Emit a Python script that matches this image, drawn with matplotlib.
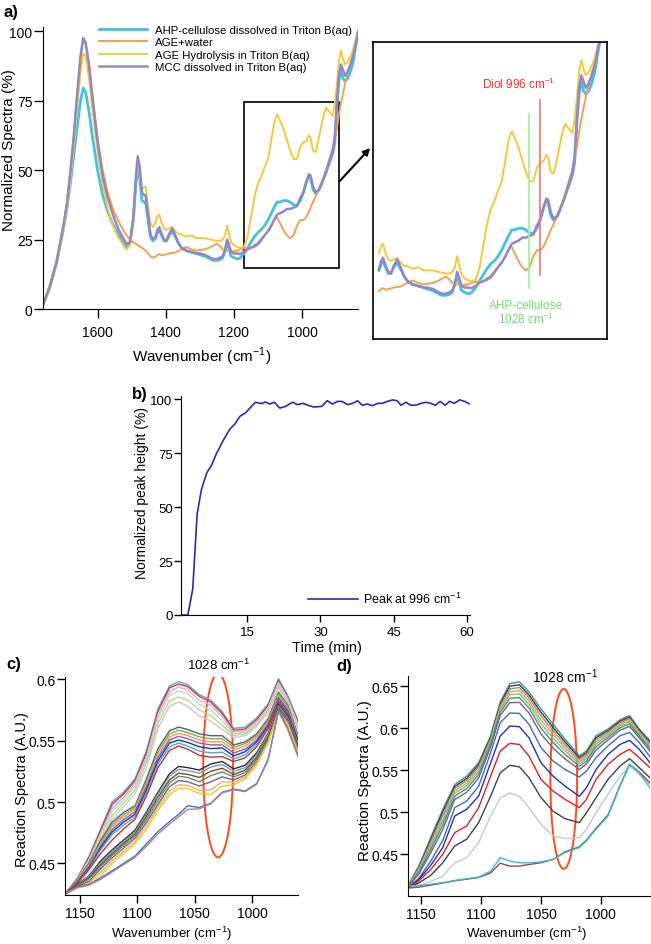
import matplotlib
matplotlib.use('agg')
import matplotlib.pyplot as plt
from matplotlib.patches import Rectangle, Ellipse, FancyArrowPatch
import numpy as np

# ---------------- data ----------------
# panel a: normalized ATR spectra
wn_a = [1760, 1740, 1720, 1700, 1690, 1680, 1670, 1660, 1650, 1642, 1635, 1625, 1615, 1600, 1585,
        1570, 1555, 1540, 1525, 1515, 1505, 1495, 1488, 1482, 1476, 1470, 1464, 1459, 1452, 1445,
        1438, 1430, 1424, 1419, 1412, 1405, 1398, 1390, 1381, 1372, 1362, 1353, 1340, 1325, 1310,
        1300, 1285, 1270, 1261, 1250, 1240, 1233, 1226, 1220, 1214, 1208, 1200, 1190, 1182, 1170,
        1160, 1150, 1140, 1130, 1120, 1110, 1100, 1090, 1080, 1073, 1065, 1055, 1045, 1035, 1025,
        1015, 1005, 996, 988, 980, 975, 968, 960, 950, 940, 930, 920, 910, 904, 898,
        892, 886, 880, 874, 866, 858, 850, 842, 836]
ahp_cellulose = [1.5, 8, 17, 29, 36, 45, 55, 65, 75, 79.5, 78, 71, 62, 50, 41,
                 35, 30.5, 27, 24, 22.3, 23.5, 32, 44, 50.5, 47, 39, 38.5, 38.5, 32, 26,
                 24.5, 25.5, 27.5, 28.5, 26.5, 24.5, 24.5, 26.5, 28, 26, 23.5, 22, 21, 20.5, 20,
                 19.5, 19, 18, 17.5, 17.5, 17.8, 18.5, 21, 24, 21.5, 19, 18.5, 18, 18.3, 20,
                 22, 24, 26, 27.5, 28.5, 30, 32, 34.5, 37, 38.5, 38.5, 39, 39, 38.5, 37.5,
                 37.3, 39, 42, 45.5, 48, 47, 43, 41.5, 43, 46, 49.3, 52.5, 56, 60, 73,
                 82, 86, 83, 82, 83, 85.5, 89, 95, 99]
age_water = [1.5, 8.5, 17.5, 30, 38, 49, 62, 77, 90, 97, 95.5, 88, 77, 62, 50,
             42, 36, 32, 28.5, 26.5, 25, 24, 23.5, 23, 22.5, 22, 21.5, 21, 20, 19,
             18.5, 18.8, 19.5, 19.8, 19.3, 19.5, 19.7, 20, 20.2, 20.3, 21, 21.5, 22.3, 21.5, 21,
             21.2, 21.5, 22.2, 22.8, 23.5, 22.5, 21.5, 21, 21, 21, 20.8, 20.8, 21, 21.5, 21.8,
             22, 22, 22.3, 23, 24.5, 26.5, 28, 30, 32.5, 33, 31, 28.5, 26.5, 25.5, 26.5,
             30, 32, 32, 33, 35, 36.5, 38.5, 40.5, 43, 46, 50, 54, 58, 61, 65,
             70, 74, 77.5, 81, 85, 88.5, 92, 96.5, 100]
age_hydrolysis = [1, 7, 16, 28, 36, 46, 58, 72, 85, 92, 91, 83, 72, 57, 45,
                  36, 30, 26, 23, 21.3, 23, 32, 46, 53, 49, 43, 44, 44, 37, 31,
                  29.5, 31, 33.5, 34, 31, 29, 28.5, 29, 29.5, 28, 27, 26.8, 26, 26.5, 25.5,
                  25.5, 25.5, 25, 24.8, 24.5, 24.5, 25, 26.5, 30, 27, 24, 23, 22.3, 22, 22.5,
                  26, 33, 40, 45, 47.5, 51, 54, 61, 68, 70, 68, 65, 61, 57, 54,
                  54, 58.5, 60, 60.5, 62.5, 61.5, 57, 56.5, 62, 68, 72.5, 71, 69.5, 74, 81,
                  89, 93, 90, 88, 89, 91, 93.5, 97.5, 100.5]
mcc = [1.5, 8, 17, 30, 38, 49, 62, 77, 91, 97.5, 96, 88, 76, 60, 48,
       40, 34, 29, 25.5, 23.5, 24, 33, 47, 55, 51, 42, 41, 41, 34, 27,
       25, 26, 28.5, 29.5, 27, 25, 24.5, 27, 29, 26.5, 23.5, 22, 21, 20.5, 20,
       20, 19.5, 18.5, 18, 18, 18.5, 19, 21, 25, 23, 20.5, 20, 20, 19.8, 20.5,
       21.5, 22, 22.8, 23.5, 25, 26.5, 28, 30, 32.5, 34, 34.5, 35, 36, 36, 36.5,
       37, 40, 42, 45.5, 48.5, 48, 44, 42, 43, 46, 49, 53, 57, 62, 74,
       84, 88, 86, 84, 85.5, 88, 91, 96, 99.5]
series_a = ['AHP-cellulose dissolved in Triton B(aq)', 'AGE+water',
            'AGE Hydrolysis in Triton B(aq)', 'MCC dissolved in Triton B(aq)']
zoom_box = [1170, 891, 14.8, 74.4]   # wavenumber from/to, % from/to
diol_wn, ahp_wn = 996, 1028

# panel b: peak height vs time
time_min = [1.3, 2.9, 3.9, 4.8, 5.7, 6.8, 7.7, 8.7, 10.1, 11.5, 12.5, 13.6, 14.7, 15.6, 16.7,
            17.9, 18.7, 19.7, 20.6, 21.7, 22.9, 24.3, 25.3, 26.5, 27.7, 28.7, 30.3, 31.4, 32.5,
            33.5, 34.4, 35.6, 36.6, 37.6, 38.6, 39.6, 40.7, 41.7, 42.7, 43.7, 44.8, 45.7, 46.5,
            47.5, 48.5, 49.6, 50.6, 51.6, 52.6, 53.5, 54.5, 55.5, 56.4, 57.4, 58.5, 59.5, 60.4]
peak_996 = [0, 0, 12, 46.8, 58.3, 66, 69.1, 74.5, 80.7, 86.1, 88.4, 92.1, 93.6, 95.8, 98.5,
            97.9, 98.6, 97.7, 98.5, 95.8, 96.6, 98.5, 97.4, 98, 96.9, 96.3, 96.6, 99.2, 97.7,
            98.9, 98.9, 97.4, 98, 99.2, 97.1, 97.7, 96.9, 98, 98, 98.9, 99.6, 99.2, 97.1,
            98.5, 97.1, 97.2, 98, 98.5, 98, 97.1, 98.9, 97.1, 98.9, 98, 99.6, 98.9, 97.8]

# panel c: reaction spectra (selected traces)
wn_c = [1163, 1152, 1142, 1132, 1122, 1112, 1102, 1092, 1082, 1072, 1064,
        1056, 1046, 1036, 1026, 1016, 1006, 996, 986, 977, 969, 960]
spectra_c = [
    [.425, .4385, .456, .478, .500, .508, .519, .542, .576, .5945, .598, .5955, .5875, .583, .5735, .560, .561, .5685, .580, .6005, .587, .5665],
    [.425, .438, .455, .4765, .498, .5065, .5175, .540, .574, .593, .596, .594, .586, .5815, .572, .5585, .5595, .567, .5785, .599, .5855, .565],
    [.425, .4375, .4535, .4745, .495, .504, .5155, .537, .571, .590, .5935, .5915, .583, .579, .5695, .557, .558, .5655, .577, .5975, .5845, .5635],
    [.425, .4375, .4525, .4725, .4925, .502, .513, .535, .568, .587, .5905, .588, .5795, .575, .566, .5555, .5565, .564, .5755, .596, .583, .5625],
    [.425, .437, .451, .470, .489, .499, .510, .532, .564, .5825, .5855, .583, .575, .5705, .5625, .554, .5555, .563, .5745, .5945, .582, .561],
    [.425, .4365, .449, .467, .486, .496, .507, .528, .560, .578, .5815, .578, .570, .566, .559, .5525, .554, .5615, .573, .593, .581, .560],
    [.425, .437, .4505, .4685, .4835, .4915, .497, .519, .5435, .558, .561, .559, .5555, .554, .554, .5465, .549, .5555, .568, .5895, .579, .5545],
    [.425, .4365, .4495, .467, .4815, .4895, .4955, .517, .541, .5555, .5585, .5565, .553, .5515, .5515, .5445, .5475, .554, .5665, .588, .578, .553],
    [.425, .436, .4485, .4655, .4795, .4875, .494, .5145, .5385, .553, .556, .554, .5505, .549, .549, .5425, .5455, .5525, .565, .5865, .5765, .552],
    [.425, .4355, .4475, .464, .4775, .4855, .492, .5125, .536, .5505, .5535, .5515, .548, .5465, .5465, .540, .543, .5505, .5635, .585, .575, .5505],
    [.425, .435, .4465, .4625, .4755, .4835, .490, .510, .5335, .548, .5505, .5485, .545, .5435, .544, .5375, .541, .549, .562, .5835, .574, .5495],
    [.425, .4345, .4455, .461, .4735, .481, .488, .5075, .531, .545, .548, .5455, .5415, .540, .5405, .535, .5385, .547, .5605, .583, .573, .547],
    [.425, .434, .445, .458, .469, .478, .486, .505, .528, .542, .5456, .543, .538, .5365, .537, .533, .536, .545, .560, .582, .572, .545],
    [.425, .433, .440, .452, .461, .469, .477, .492, .508, .523, .529, .528, .526, .531, .533, .527, .530, .540, .556, .580, .570, .545],
    [.425, .4325, .4395, .4505, .4595, .4675, .4755, .4905, .5065, .521, .5265, .5255, .5235, .5285, .5305, .525, .528, .5385, .555, .5785, .5685, .5445],
    [.425, .432, .4385, .449, .458, .466, .474, .4885, .504, .518, .5235, .5225, .520, .525, .5275, .5225, .526, .5365, .553, .577, .567, .544],
    [.425, .4315, .4375, .4475, .4565, .4645, .4725, .486, .501, .5155, .521, .520, .5165, .5215, .5245, .5205, .524, .535, .5515, .576, .566, .543],
    [.425, .431, .4355, .4455, .4545, .4625, .4705, .4835, .498, .5125, .5175, .5165, .513, .5165, .5205, .518, .522, .533, .550, .575, .5655, .542],
    [.425, .4305, .434, .443, .452, .460, .468, .481, .4955, .509, .514, .5135, .5095, .510, .5165, .516, .5205, .5315, .549, .574, .564, .541],
    [.425, .430, .432, .440, .450, .458, .466, .478, .493, .506, .511, .511, .507, .506, .513, .514, .519, .530, .548, .573, .563, .540],
    [.425, .431, .433, .438, .444, .450, .456, .466, .476, .484, .490, .497, .4955, .499, .508, .5105, .509, .515, .535, .575, .560, .538],
    [.425, .4305, .4325, .437, .443, .449, .455, .464, .474, .482, .488, .494, .4945, .4985, .5075, .510, .5085, .5145, .534, .5735, .559, .537],
]

# panel d: reaction spectra (selected traces)
wn_d = [1161, 1152, 1142, 1132, 1122, 1112, 1102, 1092, 1084, 1076, 1068, 1060,
        1050, 1040, 1030, 1018, 1012, 1004, 994, 984, 976, 968, 959]
spectra_d = [
    [.4125, .436, .470, .5035, .533, .543, .559, .591, .631, .653, .655, .643, .623, .605, .587, .567, .573, .591, .599, .610, .615, .599, .585],
    [.4123, .4347, .4675, .5002, .5305, .5403, .5565, .5892, .6288, .6499, .6516, .6395, .6189, .601, .5838, .5648, .5708, .5887, .5972, .6083, .6132, .5976, .5833],
    [.4121, .4334, .465, .4968, .5281, .5377, .554, .5874, .6266, .6467, .6483, .6361, .6147, .5971, .5805, .5625, .5687, .5863, .5954, .6066, .6114, .5961, .5816],
    [.4118, .432, .4622, .4931, .5253, .5347, .5512, .5854, .6241, .6432, .6445, .6322, .6101, .5927, .5769, .56, .5663, .5837, .5934, .6047, .6094, .5945, .5797],
    [.4116, .4305, .4594, .4894, .5226, .5318, .5484, .5834, .6217, .6397, .6408, .6284, .6055, .5883, .5733, .5575, .5639, .5811, .5914, .6028, .6074, .5929, .5778],
    [.4113, .4288, .456, .485, .5193, .5282, .545, .581, .6188, .6355, .6363, .6238, .600, .583, .569, .5545, .561, .578, .589, .6005, .605, .591, .5755],
    [.411, .4266, .4518, .4795, .5151, .5238, .5408, .578, .6151, .6303, .6306, .618, .5931, .5764, .5636, .5508, .5574, .5741, .586, .5977, .602, .5886, .5727],
    [.410, .4215, .442, .4665, .5055, .5134, .531, .571, .6065, .618, .6175, .6045, .577, .561, .551, .542, .549, .565, .579, .591, .595, .583, .566],
    [.410, .420, .437, .458, .4956, .5035, .5194, .5589, .5906, .6025, .6017, .5886, .5589, .5431, .5312, .519, .5293, .551, .5688, .5807, .5855, .5748, .559],
    [.410, .4185, .432, .450, .4758, .4837, .5055, .5431, .5728, .5819, .5807, .5669, .5392, .5253, .5154, .5055, .5154, .5392, .557, .5688, .5748, .5649, .553],
    [.410, .416, .425, .440, .460, .468, .4877, .5194, .547, .5558, .554, .541, .5174, .5015, .4924, .4877, .4996, .5174, .5392, .555, .5637, .553, .541],
    [.410, .413, .418, .424, .440, .446, .464, .4956, .517, .523, .519, .5055, .4857, .4719, .4687, .470, .4798, .4996, .5213, .543, .555, .545, .533],
    [.410, .411, .4135, .416, .4185, .4205, .4225, .428, .4395, .436, .436, .438, .440, .444, .453, .459, .467, .481, .497, .532, .557, .548, .535],
    [.4125, .413, .4145, .4164, .419, .421, .423, .430, .446, .442, .440, .440, .441, .444, .452, .458, .466, .480, .4956, .5312, .557, .547, .529],
]

# ---------------- styling ----------------
plt.rcParams['font.family'] = ['Liberation Sans', 'DejaVu Sans']
plt.rcParams['mathtext.fontset'] = 'custom'
plt.rcParams['mathtext.rm'] = 'Liberation Sans'

colors_a = ['#3ec3e3', '#f4a050', '#f7c83a', '#9288c2']
lw_a = [2.0, 1.4, 1.4, 1.8]
colors_c = ['#3cb8d8', '#e03030', '#e8a8c0', '#a8dcec', '#c8d870', '#c8c8d8',
            '#3f6f5f', '#9a9a70', '#f0a040', '#8a60a8', '#2030c0', '#30b8d0', '#e02828',
            '#3a1c5c', '#6aa89a', '#8a4030', '#4a9a50', '#7a5aa0', '#f0b060', '#f0c820',
            '#3a78b8', '#b08098']
colors_d = ['#2aa090', '#5a3030', '#9090a0', '#f0a030', '#70c0b0', '#4a9a5a', '#7a5a9a',
            '#3a70b0', '#2030c0', '#e02020', '#404050', '#c8c8d0', '#a04050', '#30c0d8']

W, H = 651, 945


def box(l, t, r, b):
    return [l / W, 1 - b / H, (r - l) / W, (b - t) / H]


def fxy(px, py):
    return px / W, 1 - py / H


def style_axes(ax, fs, xpad, ypad, length=6.5):
    ax.spines['top'].set_visible(False)
    ax.spines['right'].set_visible(False)
    ax.tick_params(direction='out', length=length, width=1, labelsize=fs)
    ax.tick_params(axis='x', pad=xpad)
    ax.tick_params(axis='y', pad=ypad)


def place_labels(ax, xl, yl, xfs, yfs, xpos, ypos):
    ax.set_xlabel(xl, fontsize=xfs)
    ax.set_ylabel(yl, fontsize=yfs)
    ax.xaxis.set_label_coords(*xpos)
    ax.yaxis.set_label_coords(*ypos)
    ax.xaxis.label.set_va('center')
    ax.yaxis.label.set_va('center')


fig = plt.figure(figsize=(W / 100, H / 100), dpi=100)

# ---------------- panel a ----------------
ax_a = fig.add_axes(box(43, 28, 358, 310))
for y, c, lw, lab in zip([ahp_cellulose, age_water, age_hydrolysis, mcc], colors_a, lw_a, series_a):
    ax_a.plot(wn_a, y, color=c, lw=lw, label=lab)
ax_a.set_xlim(1760, 836)
ax_a.set_ylim(0, 101.5)
ax_a.set_xticks([1600, 1400, 1200, 1000])
ax_a.set_yticks([0, 25, 50, 75, 100])
style_axes(ax_a, 10, 5, 1)
place_labels(ax_a, 'Wavenumber (cm$^{-1}$)', 'Normalized Spectra (%)', 11, 11,
             (0.505, -0.167), (-0.108, 0.567))
ax_a.add_patch(Rectangle((zoom_box[0], zoom_box[2]), zoom_box[1] - zoom_box[0],
                         zoom_box[3] - zoom_box[2], fill=False, ec='black', lw=1.2))
ax_a.legend(loc='upper left', bbox_to_anchor=fxy(99, 26), bbox_transform=fig.transFigure,
            frameon=False, borderpad=0, borderaxespad=0, handlelength=4.2,
            handletextpad=0.7, labelspacing=0.2, prop={'size': 8.2})
fig.text(*fxy(3, 13), 'a)', fontsize=12, fontweight='bold', va='center')

# inset
ax_in = fig.add_axes(box(373, 43, 607, 340))
wn_arr = np.array(wn_a)
sel = wn_arr <= 1430
for y, c, lw in zip([ahp_cellulose, age_water, age_hydrolysis, mcc], colors_a, lw_a):
    ax_in.plot(wn_arr[sel], np.array(y)[sel], color=c, lw=lw)
ax_in.set_xlim(1446, 817)
ax_in.set_ylim(3.5, 98.7)
ax_in.set_xticks([])
ax_in.set_yticks([])
for s in ax_in.spines.values():
    s.set_linewidth(1.2)
ax_in.plot([ahp_wn, ahp_wn], [20, 75.5], color='#a0eea0', lw=1.2)
ax_in.plot([diol_wn, diol_wn], [24, 80], color='#f07868', lw=1.2)
fig.text(*fxy(519, 84), 'Diol 996 cm$^{-1}$', color='#ff2a2a', fontsize=8.5,
         ha='center', va='center')
fig.text(*fxy(526, 306), 'AHP-cellulose', color='#6ee06e', fontsize=8.5,
         ha='center', va='center')
fig.text(*fxy(526, 319), '1028 cm$^{-1}$', color='#6ee06e', fontsize=8.5,
         ha='center', va='center')
fig.add_artist(FancyArrowPatch(fxy(338, 184), fxy(372, 147), transform=fig.transFigure,
                               arrowstyle='-|>', mutation_scale=10, color='black', lw=1.5))

# ---------------- panel b ----------------
ax_b = fig.add_axes(box(181, 397, 470, 616))
ax_b.plot(time_min, peak_996, color='#2a2ab4', lw=1.2, label='Peak at 996 cm$^{-1}$')
ax_b.set_xlim(1.5, 60.6)
ax_b.set_ylim(0, 101.4)
ax_b.set_xticks([15, 30, 45, 60])
ax_b.set_yticks([0, 25, 50, 75, 100])
style_axes(ax_b, 9.5, 3, 1, length=5)
place_labels(ax_b, 'Time (min)', 'Normalized peak height (%)', 10.5, 10,
             (0.504, -0.146), (-0.135, 0.56))
ax_b.legend(loc='lower right', frameon=False, handlelength=4.0, handletextpad=0.4,
            borderaxespad=0.3, prop={'size': 9})
fig.text(*fxy(132, 394), 'b)', fontsize=12, fontweight='bold', va='center')

# ---------------- panel c ----------------
ax_c = fig.add_axes(box(65, 678, 298, 896))
for y, c in zip(spectra_c, colors_c):
    ax_c.plot(wn_c, y, color=c, lw=1.0)
ax_c.set_xlim(1163, 960)
ax_c.set_ylim(0.4243, 0.6018)
ax_c.set_xticks([1150, 1100, 1050, 1000])
ax_c.set_yticks([0.45, 0.5, 0.55, 0.6])
ax_c.set_yticklabels(['0.45', '0.5', '0.55', '0.6'])
style_axes(ax_c, 10, 2, 1, length=6)
place_labels(ax_c, 'Wavenumber (cm$^{-1}$)', 'Reaction Spectra (A.U.)', 9.5, 10.5,
             (0.459, -0.174), (-0.185, 0.486))
ax_c.add_patch(Ellipse((1029.6, 0.5297), 26, 0.1495, fill=False, ec='#ff4a1a', lw=1.4))
fig.text(*fxy(219, 665), '1028 cm$^{-1}$', fontsize=9.5, ha='center', va='center')
fig.text(*fxy(6, 665), 'c)', fontsize=12, fontweight='bold', va='center')

# ---------------- panel d ----------------
ax_d = fig.add_axes(box(408, 677, 650, 897))
for y, c in zip(spectra_d, colors_d):
    ax_d.plot(wn_d, y, color=c, lw=1.0)
ax_d.set_xlim(1161, 959)
ax_d.set_ylim(0.4005, 0.662)
ax_d.set_xticks([1150, 1100, 1050, 1000])
ax_d.set_yticks([0.45, 0.5, 0.55, 0.6, 0.65])
ax_d.set_yticklabels(['0.45', '0.5', '0.55', '0.6', '0.65'])
style_axes(ax_d, 10, 2, 1, length=6)
place_labels(ax_d, 'Wavenumber (cm$^{-1}$)', 'Reaction Spectra (A.U.)', 9.5, 11,
             (0.492, -0.168), (-0.178, 0.53))
ax_d.add_patch(Ellipse((1031, 0.5396), 22.3, 0.2138, fill=False, ec='#ff4a1a', lw=1.4))
fig.text(*fxy(565, 677), '1028 cm$^{-1}$', fontsize=10, ha='center', va='center')
fig.text(*fxy(336, 666), 'd)', fontsize=12, fontweight='bold', va='center')

fig.savefig('out.png', dpi=100)
